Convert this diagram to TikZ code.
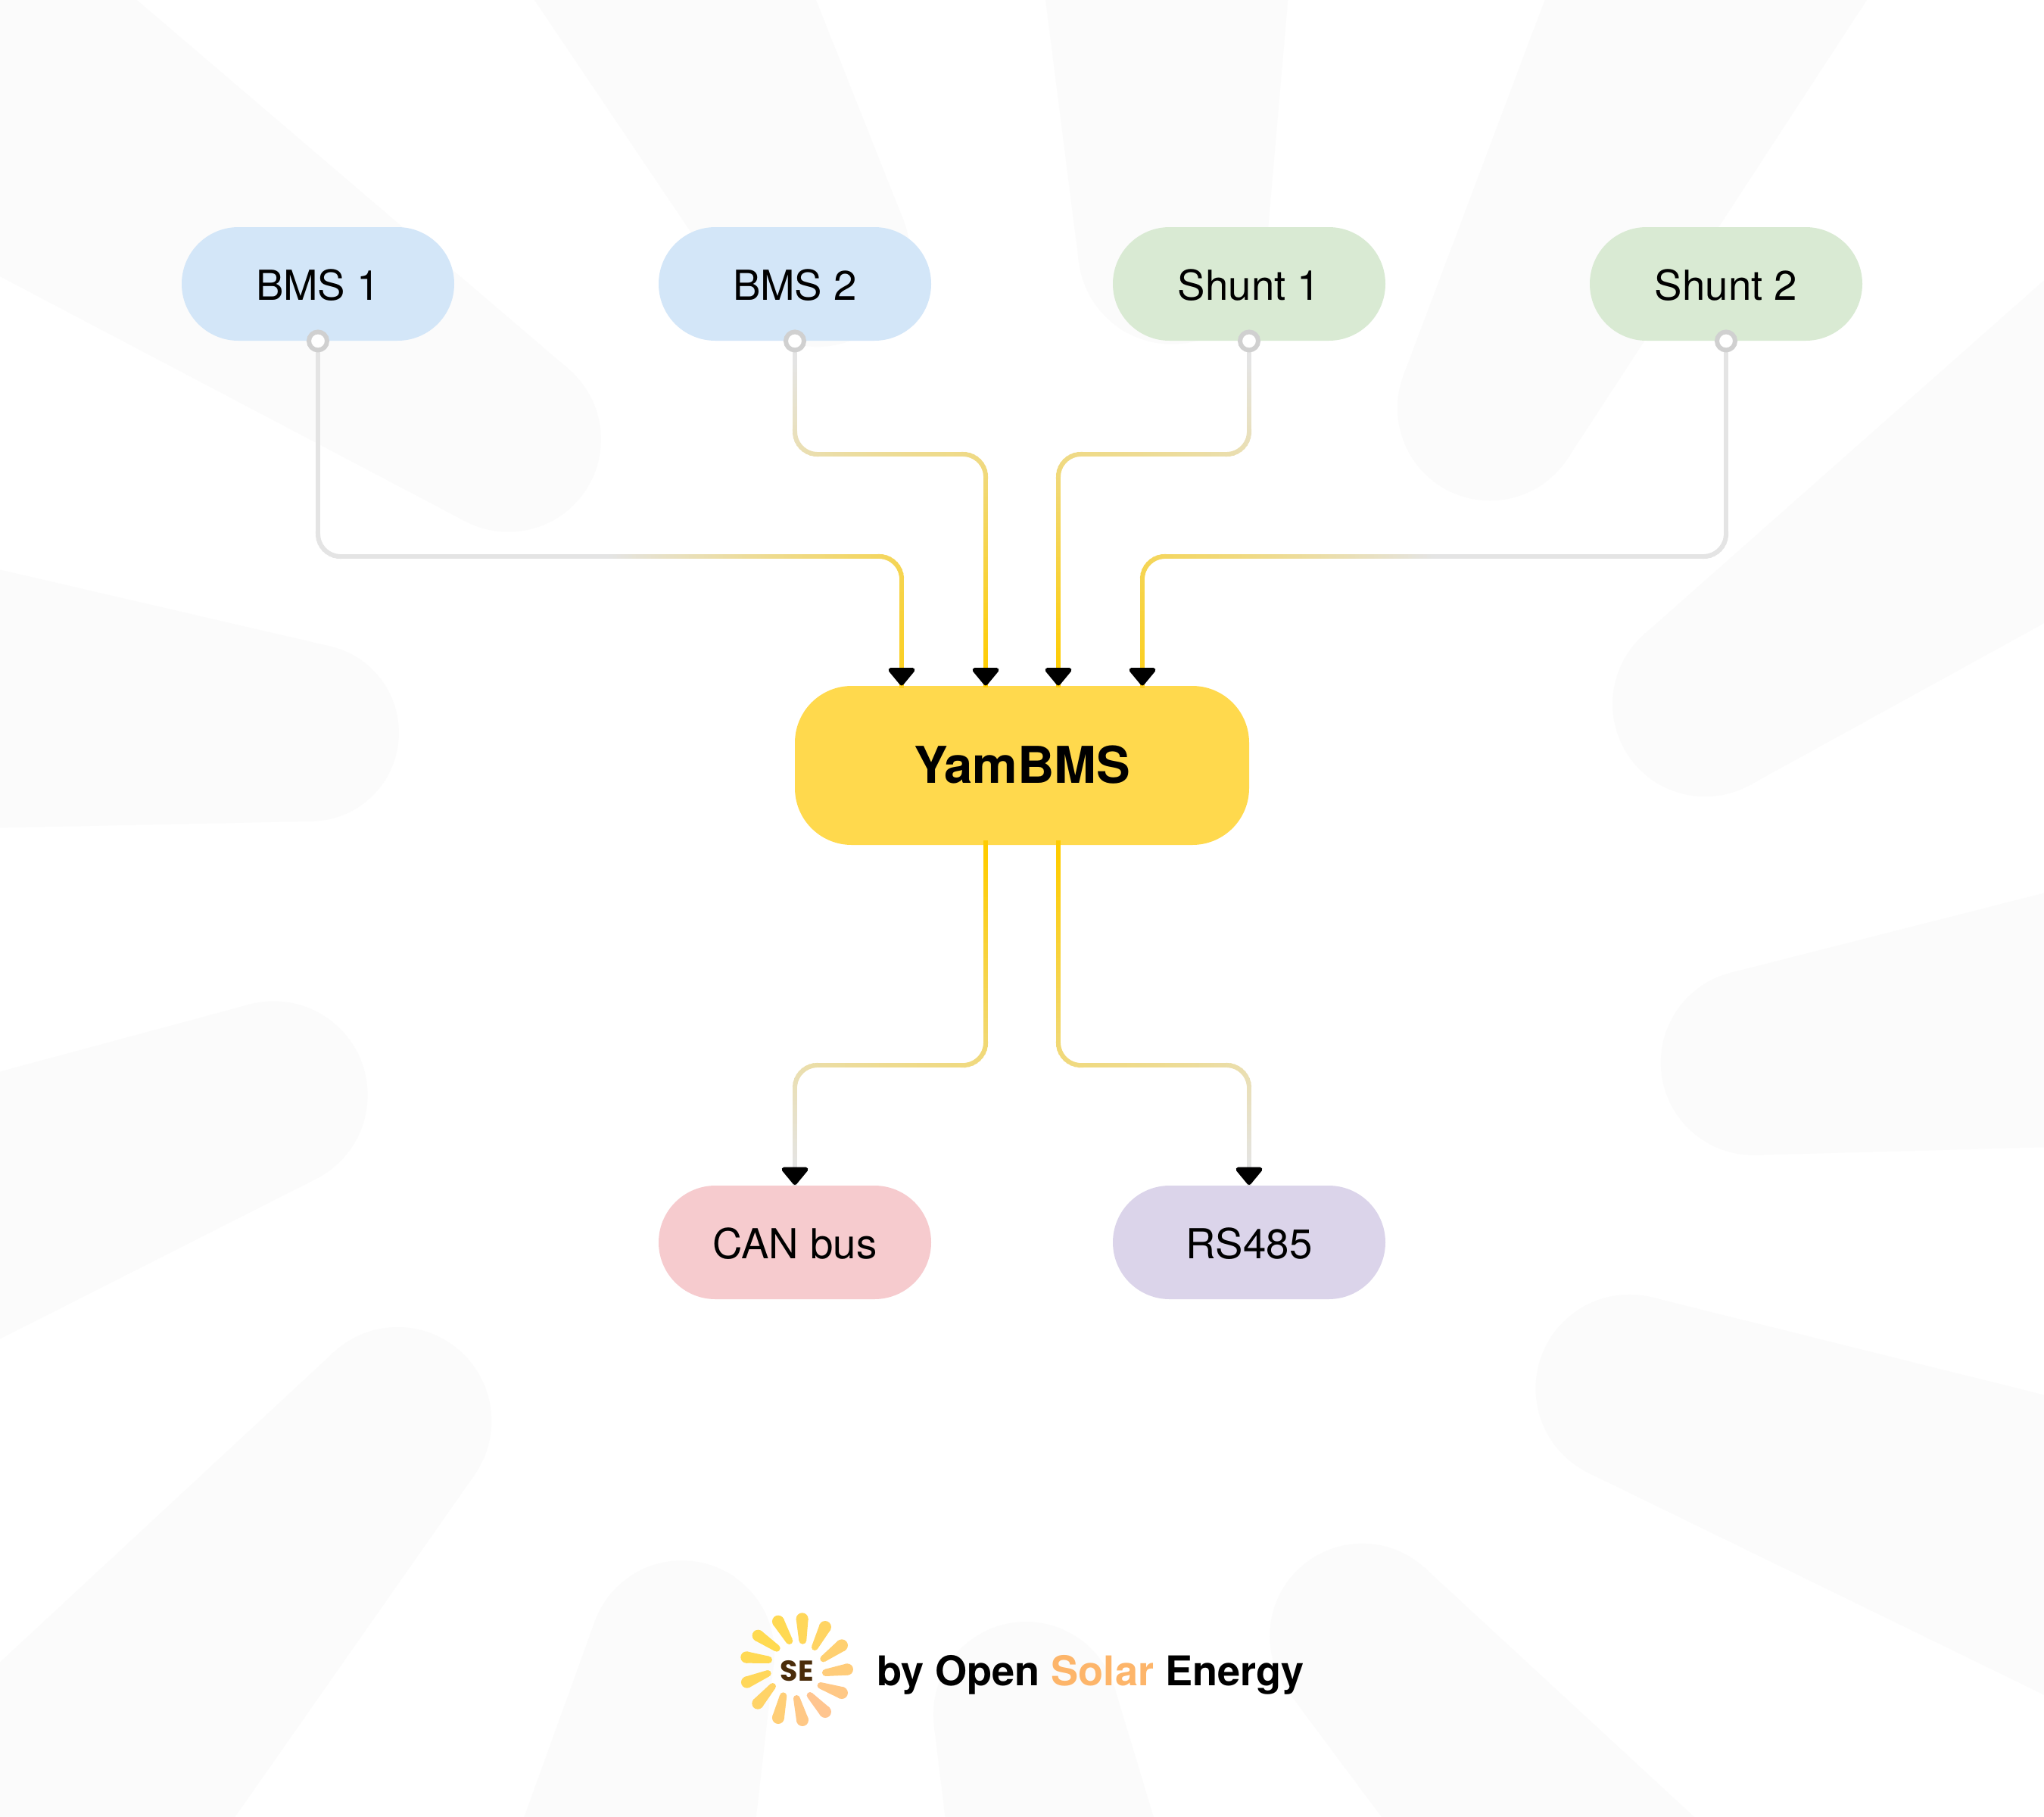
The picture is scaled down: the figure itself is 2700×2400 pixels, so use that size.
\documentclass[tikz,border=0pt]{standalone}
\usepackage{fontspec}
\setmainfont{TeX Gyre Heros}
\newfontfamily\sefont{Poppins}
\usetikzlibrary{decorations.markings,calc}
\definecolor{ccA}{HTML}{E4E4E4}
\definecolor{ccB}{HTML}{FFCC00}
\definecolor{bgr}{HTML}{FBFBFB}
\definecolor{cblue}{HTML}{D3E6F8}
\definecolor{cgreen}{HTML}{D9EAD3}
\definecolor{cred}{HTML}{F6CBCE}
\definecolor{cpurple}{HTML}{DBD4EA}
\definecolor{cyam}{HTML}{FFD94D}
\definecolor{cdot}{HTML}{D0D0D0}
\definecolor{csolar}{HTML}{FDB56A}
\definecolor{cse}{HTML}{4A2C0A}
\definecolor{sunA}{HTML}{FFDA50}
\definecolor{sunB}{HTML}{FFC590}
\tikzset{
  x=0.5pt,y=-0.5pt,
  pill/.style={rounded corners=37.5pt,minimum width=180pt,minimum height=75pt,inner sep=0pt,text height=21pt,text depth=0pt,font=\fontsize{27.3pt}{30pt}\selectfont},
  core/.style={rounded corners=37.5pt,minimum width=300pt,minimum height=105pt,inner sep=0pt,fill=cyam,text height=23.6pt,text depth=0pt,font=\fontsize{33.5pt}{36pt}\selectfont\bfseries},
  portdot/.style={circle,draw=cdot,fill=white,line width=3pt,minimum size=12pt,inner sep=0pt},
  wire/.style={rounded corners=15pt,
    postaction={decorate,decoration={markings,mark=between positions 0 and 1 step 2.5pt with {%
      \pgfpointtransformed{\pgfpointorigin}\pgfgetlastxy{\mx}{\my}%
      \pgfmathsetmacro\ccT{max(0,min(100,(veclen(\mx-675pt,\my+505.5pt)*2-130)/4.8))}%
      \draw[line width=3pt,color=ccA!\ccT!ccB] (-1.8pt,0pt)--(1.8pt,0pt);}}}},
  tipped/.style={postaction={decorate,decoration={markings,mark=at position 1 with {%
      \draw[sharp corners,black,fill=black,line width=3pt,line join=round] (-10.5pt,-7.2pt)--(-10.5pt,7.2pt)--(-1.8pt,0pt)--cycle;}}}},
}
\newcommand{\bgray}[7]{%
  \pgfmathsetmacro\cxx{#1*1.722}\pgfmathsetmacro\cyy{#2*1.722}\pgfmathsetmacro\rrr{#3*1.722}%
  \pgfmathsetmacro\pax{#4*1.722}\pgfmathsetmacro\pay{#5*1.722}\pgfmathsetmacro\pbx{#6*1.722}\pgfmathsetmacro\pby{#7*1.722}%
  \pgfmathsetmacro\tha{atan2(\pay-\cyy,\pax-\cxx)}\pgfmathsetmacro\thb{atan2(\pby-\cyy,\pbx-\cxx)}%
  \pgfmathsetmacro\ala{acos(\rrr/veclen(\pax-\cxx,\pay-\cyy))}\pgfmathsetmacro\alb{acos(\rrr/veclen(\pbx-\cxx,\pby-\cyy))}%
  \pgfmathsetmacro\sgn{(((\pax-\cxx)/100*(\pby-\cyy)/100-(\pay-\cyy)/100*(\pbx-\cxx)/100)>0)?1:-1}%
  \pgfmathsetmacro\tax{\cxx+\rrr*cos(\tha-\sgn*\ala)}\pgfmathsetmacro\tay{\cyy+\rrr*sin(\tha-\sgn*\ala)}%
  \pgfmathsetmacro\tbx{\cxx+\rrr*cos(\thb+\sgn*\alb)}\pgfmathsetmacro\tby{\cyy+\rrr*sin(\thb+\sgn*\alb)}%
  \fill[bgr] (\tax,\tay)--($(\tax,\tay)!4!(\pax,\pay)$)--($(\tbx,\tby)!4!(\pbx,\pby)$)--(\tbx,\tby)--cycle;
  \fill[bgr] (\cxx,\cyy) circle[radius=\rrr*0.5pt];
}
\newcommand{\sunray}[7]{%
  \pgfmathsetmacro\ax{1052.3+(#1-277)/3}\pgfmathsetmacro\ay{2205+(#2-285)/3}\pgfmathsetmacro\ar{#3/3}%
  \pgfmathsetmacro\bx{1052.3+(#4-277)/3}\pgfmathsetmacro\by{2205+(#5-285)/3}\pgfmathsetmacro\br{#6/3}%
  \pgfmathsetmacro\ang{atan2(\by-\ay,\bx-\ax)+90}%
  \pgfmathsetmacro\cc{cos(\ang)}\pgfmathsetmacro\ss{sin(\ang)}%
  \fill[sunB!#7!sunA] (\ax,\ay) circle[radius=\ar*0.5pt] (\bx,\by) circle[radius=\br*0.5pt];
  \fill[sunB!#7!sunA] ({\ax+\ar*\cc},{\ay+\ar*\ss})--({\ax-\ar*\cc},{\ay-\ar*\ss})--({\bx-\br*\cc},{\by-\br*\ss})--({\bx+\br*\cc},{\by+\br*\ss})--cycle;
}
\begin{document}
\begin{tikzpicture}
\useasboundingbox (0,0) rectangle (2700,2400);
\fill[white] (0,0) rectangle (2700,2400);
\begin{scope}
\clip (0,0) rectangle (2700,2400);
\bgray{390}{337}{71}{105}{0}{0}{212}
\bgray{627}{195}{71}{410}{0}{626}{0}
\bgray{899}{192}{72}{802}{0}{988}{0}
\bgray{1143}{313}{71}{1185}{0}{1432}{0}
\bgray{1308}{540}{71}{1568}{215}{1568}{478}
\bgray{1345}{815}{71}{1568}{685}{1568}{880}
\bgray{1250}{1065}{72}{1568}{1070}{1568}{1300}
\bgray{1045}{1255}{71}{1300}{1394}{1060}{1394}
\bgray{787}{1315}{71}{885}{1394}{725}{1394}
\bgray{523}{1268}{71}{580}{1394}{402}{1394}
\bgray{305}{1090}{72}{180}{1394}{0}{1275}
\bgray{210}{840}{72}{0}{1027}{0}{822}
\bgray{238}{562}{68}{0}{635}{0}{437}
\end{scope}

\node[pill,fill=cblue]   (bms1)   at (420,375)  {BMS 1};
\node[pill,fill=cblue]   (bms2)   at (1050,375) {BMS 2};
\node[pill,fill=cgreen]  (shunt1) at (1650,375) {Shunt 1};
\node[pill,fill=cgreen]  (shunt2) at (2280,375) {Shunt 2};
\node[core]              (yam)    at (1350,1011) {YamBMS};
\node[pill,fill=cred]    (can)    at (1050,1641) {CAN bus};
\node[pill,fill=cpurple] (rs)     at (1650,1641) {RS485};

\coordinate (in1) at (1191,906);
\coordinate (in2) at (1302,906);
\coordinate (in3) at (1398,906);
\coordinate (in4) at (1509,906);
\coordinate (out1) at (1302,1114);
\coordinate (out2) at (1398,1114);
\coordinate (b1) at (1191,735);
\coordinate (b2) at (1302,600);
\coordinate (b3) at (1398,600);
\coordinate (b4) at (1509,735);
\coordinate (b5) at (1302,1407);
\coordinate (b6) at (1398,1407);

\path[wire,tipped] (bms1.south) |- (b1) -- (in1);
\path[wire,tipped] (bms2.south) |- (b2) -- (in2);
\path[wire,tipped] (shunt1.south) |- (b3) -- (in3);
\path[wire,tipped] (shunt2.south) |- (b4) -- (in4);
\path[wire,tipped] (out1) -- (b5) -| (can.north);
\path[wire,tipped] (out2) -- (b6) -| (rs.north);

\node[portdot] (p1) at (bms1.south) {};
\node[portdot] (p2) at (bms2.south) {};
\node[portdot] (p3) at (shunt1.south) {};
\node[portdot] (p4) at (shunt2.south) {};

\sunray{299}{85}{24}{301}{170}{15}{15}
\sunray{390}{117}{24}{349}{197}{13}{30}
\sunray{456}{190}{24}{383}{243}{13}{50}
\sunray{478}{285}{23}{392}{298}{14}{65}
\sunray{456}{378}{24}{372}{349}{13}{85}
\sunray{390}{453}{24}{330}{388}{13}{100}
\sunray{300}{486}{24}{277}{400}{13}{85}
\sunray{204}{477}{24}{224}{390}{14}{60}
\sunray{123}{420}{23}{182}{352}{13}{35}
\sunray{80}{336}{23}{163}{301}{13}{15}
\sunray{78}{237}{23}{166}{247}{14}{5}
\sunray{124}{151}{23}{198}{201}{14}{0}
\sunray{204}{95}{24}{248}{172}{14}{5}
\node[text=cse,font=\sefont\bfseries\fontsize{19pt}{20pt}\selectfont,inner sep=0pt] (se) at (1052.7,2206.7) {SE};
\node[anchor=base west,inner sep=0pt,font=\fontsize{27.05pt}{30pt}\selectfont\bfseries] (brand) at (1158,2226) {by Open \textcolor{csolar}{Solar} Energy};
\end{tikzpicture}
\end{document}
